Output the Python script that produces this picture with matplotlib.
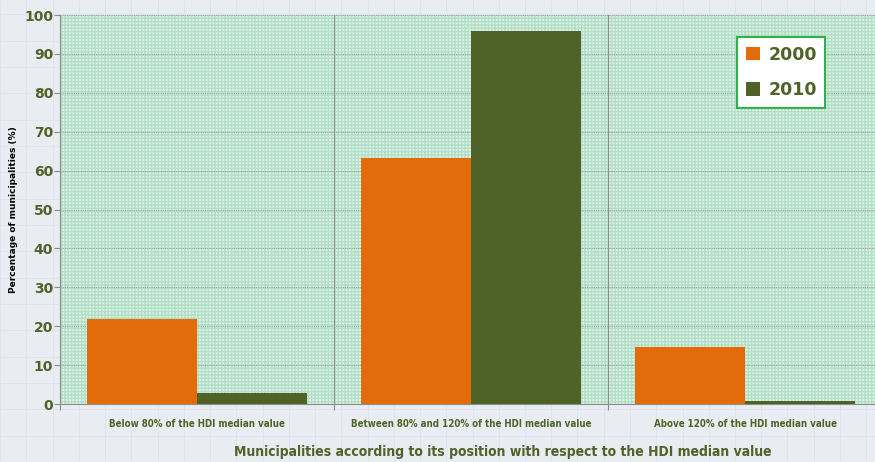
import numpy as np
import matplotlib
matplotlib.use('Agg')
import matplotlib.pyplot as plt
from matplotlib.patches import Rectangle

categories = ['Below 80% of the HDI median value',
              'Between 80% and 120% of the HDI median value',
              'Above 120% of the HDI median value']
vals_2000 = [21.8, 63.2, 14.7]
vals_2010 = [2.9, 95.9, 0.8]
yticks = [0, 10, 20, 30, 40, 50, 60, 70, 80, 90, 100]

ORANGE = '#e36c0a'
GREEN = '#4f6228'
OLIVE = '#4f6228'

fig = plt.figure(figsize=(8.75, 4.62), dpi=100)
fig.patch.set_facecolor('#e9edf1')

# faint slide background grid
for gx in np.arange(0, 1, 0.03):
    fig.add_artist(plt.Line2D([gx, gx], [0, 1], color='#dde3e9', lw=0.6, zorder=-5))
for gy in np.arange(0, 1, 0.057):
    fig.add_artist(plt.Line2D([0, 1], [gy, gy], color='#dde3e9', lw=0.6, zorder=-5))

ax = fig.add_axes([60/875, 1 - 404/462, (882-60)/875, (404-15)/462])
ax.set_facecolor('#e2f3ea')
ax.add_patch(Rectangle((0, 0), 1, 1, transform=ax.transAxes, facecolor='none',
                       edgecolor='#b0dfc6', hatch='+++++', lw=0, zorder=0))

x = np.arange(len(categories))
w = 0.4
ax.bar(x - w/2, vals_2000, w, color=ORANGE, label='2000', zorder=3)
ax.bar(x + w/2, vals_2010, w, color=GREEN, label='2010', zorder=3)

ax.set_xlim(-0.5, 2.5)
ax.set_ylim(0, 100)
ax.set_yticks(yticks)
ax.yaxis.grid(True, color='#a0a0a0', linestyle=(0, (1, 1)), lw=0.8, zorder=1)
for b in [0.5, 1.5]:
    ax.axvline(b, color='#8c8c8c', lw=0.8, zorder=2)

ax.set_xticks([-0.5, 0.5, 1.5, 2.5], minor=False)
ax.set_xticklabels([])
ax.set_xticks(x, minor=True)
ax.set_xticklabels(categories, minor=True, fontsize=7, fontweight='bold',
                   color=OLIVE, family='DejaVu Sans', stretch='condensed')
ax.tick_params(axis='x', which='minor', length=0, pad=11)
ax.tick_params(axis='x', which='major', length=4, color='#8c8c8c')
ax.tick_params(axis='y', length=4, color='#8c8c8c', labelsize=10, labelcolor=OLIVE, pad=1)
for lab in ax.get_yticklabels():
    lab.set_fontweight('bold')

for s in ['top', 'right']:
    ax.spines[s].set_visible(False)
for s in ['left', 'bottom']:
    ax.spines[s].set_color('#8c8c8c')

ax.set_ylabel('Percentage of municipalities (%)', fontsize=6.5, fontweight='bold')
ax.yaxis.set_label_coords(-(60-18)/822, 0.5)
fig.text(503/875, 1 - 452/462, 'Municipalities according to its position with respect to the HDI median value',
         ha='center', va='center', fontsize=10, fontweight='bold', color=OLIVE,
         family='DejaVu Sans', stretch='condensed')

leg = ax.legend(loc='upper left', bbox_to_anchor=((737-60)/822, 1 - (37-15)/389),
                frameon=True, fancybox=False, fontsize=12.5, handlelength=0.8,
                handleheight=0.8, labelspacing=1.0, borderpad=0.5, handletextpad=0.5,
                borderaxespad=0)
leg.get_frame().set_edgecolor('#2db34a')
leg.get_frame().set_linewidth(1.5)
leg.get_frame().set_alpha(1)
for t in leg.get_texts():
    t.set_color(OLIVE)
    t.set_fontweight('bold')

fig.savefig('out.png', dpi=100, facecolor=fig.get_facecolor())
